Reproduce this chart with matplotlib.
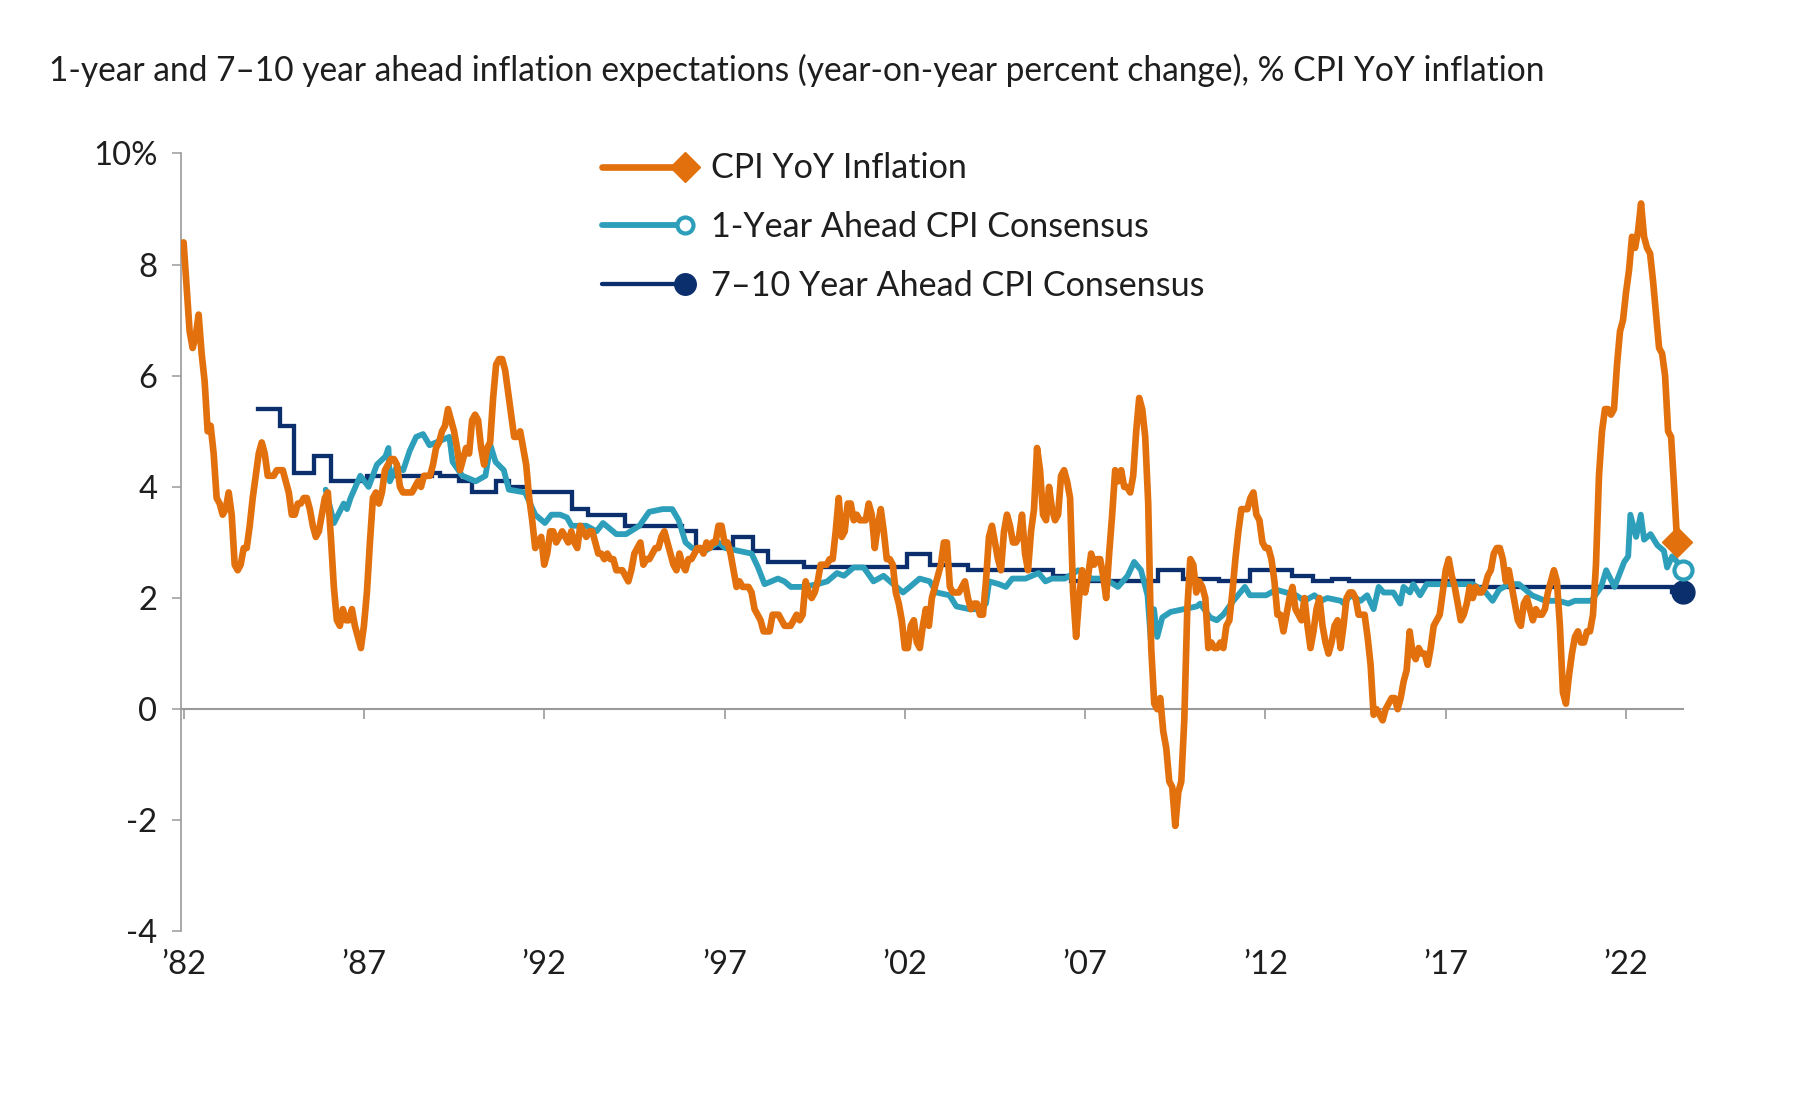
import numpy as np
import pandas as pd
import matplotlib
matplotlib.use("Agg")
import matplotlib.pyplot as plt
from matplotlib.lines import Line2D
from matplotlib.legend_handler import HandlerLine2D

# ---------------- data ----------------
cpi_start = "1982-01-01"
cpi_yoy = [
    8.4, 7.6, 6.8, 6.5, 6.7, 7.1, 6.4, 5.9, 5.0, 5.1, 4.6, 3.8,   # 1982
    3.7, 3.5, 3.6, 3.9, 3.5, 2.6, 2.5, 2.6, 2.9, 2.9, 3.3, 3.8,   # 1983
    4.2, 4.6, 4.8, 4.6, 4.2, 4.2, 4.2, 4.3, 4.3, 4.3, 4.1, 3.9,   # 1984
    3.5, 3.5, 3.7, 3.7, 3.8, 3.8, 3.6, 3.3, 3.1, 3.2, 3.5, 3.8,   # 1985
    3.9, 3.1, 2.2, 1.6, 1.5, 1.8, 1.6, 1.6, 1.8, 1.5, 1.3, 1.1,   # 1986
    1.5, 2.1, 3.0, 3.8, 3.9, 3.7, 3.9, 4.3, 4.4, 4.5, 4.5, 4.4,   # 1987
    4.0, 3.9, 3.9, 3.9, 3.9, 4.0, 4.1, 4.0, 4.2, 4.2, 4.2, 4.4,   # 1988
    4.7, 4.8, 5.0, 5.1, 5.4, 5.2, 5.0, 4.7, 4.3, 4.5, 4.7, 4.6,   # 1989
    5.2, 5.3, 5.2, 4.7, 4.4, 4.7, 4.8, 5.6, 6.2, 6.3, 6.3, 6.1,   # 1990
    5.7, 5.3, 4.9, 4.9, 5.0, 4.7, 4.4, 3.8, 3.4, 2.9, 3.0, 3.1,   # 1991
    2.6, 2.8, 3.2, 3.2, 3.0, 3.1, 3.2, 3.1, 3.0, 3.2, 3.0, 2.9,   # 1992
    3.3, 3.2, 3.1, 3.2, 3.2, 3.0, 2.8, 2.8, 2.7, 2.8, 2.7, 2.7,   # 1993
    2.5, 2.5, 2.5, 2.4, 2.3, 2.5, 2.8, 2.9, 3.0, 2.6, 2.7, 2.7,   # 1994
    2.8, 2.9, 2.9, 3.1, 3.2, 3.0, 2.8, 2.6, 2.5, 2.8, 2.6, 2.5,   # 1995
    2.7, 2.7, 2.8, 2.9, 2.9, 2.8, 3.0, 2.9, 3.0, 3.0, 3.3, 3.3,   # 1996
    3.0, 3.0, 2.8, 2.5, 2.2, 2.3, 2.2, 2.2, 2.2, 2.1, 1.8, 1.7,   # 1997
    1.6, 1.4, 1.4, 1.4, 1.7, 1.7, 1.7, 1.6, 1.5, 1.5, 1.5, 1.6,   # 1998
    1.7, 1.6, 1.7, 2.3, 2.1, 2.0, 2.1, 2.3, 2.6, 2.6, 2.6, 2.7,   # 1999
    2.7, 3.2, 3.8, 3.1, 3.2, 3.7, 3.7, 3.4, 3.5, 3.4, 3.4, 3.4,   # 2000
    3.7, 3.5, 2.9, 3.3, 3.6, 3.2, 2.7, 2.7, 2.6, 2.1, 1.9, 1.6,   # 2001
    1.1, 1.1, 1.5, 1.6, 1.2, 1.1, 1.5, 1.8, 1.5, 2.0, 2.2, 2.4,   # 2002
    2.6, 3.0, 3.0, 2.2, 2.1, 2.1, 2.1, 2.2, 2.3, 2.0, 1.8, 1.9,   # 2003
    1.9, 1.7, 1.7, 2.3, 3.1, 3.3, 3.0, 2.7, 2.5, 3.2, 3.5, 3.3,   # 2004
    3.0, 3.0, 3.1, 3.5, 2.8, 2.5, 3.2, 3.6, 4.7, 4.3, 3.5, 3.4,   # 2005
    4.0, 3.6, 3.4, 3.5, 4.2, 4.3, 4.1, 3.8, 2.1, 1.3, 2.0, 2.5,   # 2006
    2.1, 2.4, 2.8, 2.6, 2.7, 2.7, 2.4, 2.0, 2.8, 3.5, 4.3, 4.1,   # 2007
    4.3, 4.0, 4.0, 3.9, 4.2, 5.0, 5.6, 5.4, 4.9, 3.7, 1.1, 0.1,   # 2008
    0.0, 0.2, -0.4, -0.7, -1.3, -1.4, -2.1, -1.5, -1.3, -0.2, 1.8, 2.7,  # 2009
    2.6, 2.1, 2.3, 2.2, 2.0, 1.1, 1.2, 1.1, 1.1, 1.2, 1.1, 1.5,   # 2010
    1.6, 2.1, 2.7, 3.2, 3.6, 3.6, 3.6, 3.8, 3.9, 3.5, 3.4, 3.0,   # 2011
    2.9, 2.9, 2.7, 2.3, 1.7, 1.7, 1.4, 1.7, 2.0, 2.2, 1.8, 1.7,   # 2012
    1.6, 2.0, 1.5, 1.1, 1.4, 1.8, 2.0, 1.5, 1.2, 1.0, 1.2, 1.5,   # 2013
    1.6, 1.1, 1.5, 2.0, 2.1, 2.1, 2.0, 1.7, 1.7, 1.7, 1.3, 0.8,   # 2014
    -0.1, 0.0, -0.1, -0.2, 0.0, 0.1, 0.2, 0.2, 0.0, 0.2, 0.5, 0.7,  # 2015
    1.4, 1.0, 0.9, 1.1, 1.0, 1.0, 0.8, 1.1, 1.5, 1.6, 1.7, 2.1,   # 2016
    2.5, 2.7, 2.4, 2.2, 1.9, 1.6, 1.7, 1.9, 2.2, 2.0, 2.2, 2.1,   # 2017
    2.1, 2.2, 2.4, 2.5, 2.8, 2.9, 2.9, 2.7, 2.3, 2.5, 2.2, 1.9,   # 2018
    1.6, 1.5, 1.9, 2.0, 1.8, 1.6, 1.8, 1.7, 1.7, 1.8, 2.1, 2.3,   # 2019
    2.5, 2.3, 1.5, 0.3, 0.1, 0.6, 1.0, 1.3, 1.4, 1.2, 1.2, 1.4,   # 2020
    1.4, 1.7, 2.6, 4.2, 5.0, 5.4, 5.4, 5.3, 5.4, 6.2, 6.8, 7.0,   # 2021
    7.5, 7.9, 8.5, 8.3, 8.6, 9.1, 8.5, 8.3, 8.2, 7.7, 7.1, 6.5,   # 2022
    6.4, 6.0, 5.0, 4.9, 4.0, 3.0,                                 # 2023
]

one_year_dates = [
    1985.94, 1986.17, 1986.44, 1986.53, 1986.63, 1986.90, 1987.13, 1987.36, 1987.60, 1987.68,
    1987.72, 1987.90, 1988.09, 1988.27, 1988.45, 1988.64, 1988.82, 1989.00, 1989.19, 1989.37,
    1989.46, 1989.73, 1990.10, 1990.37, 1990.51, 1990.65, 1990.88, 1991.02, 1991.47, 1991.75,
    1992.02, 1992.20, 1992.44, 1992.63, 1992.76, 1993.17, 1993.45, 1993.63, 1994.00, 1994.27,
    1994.64, 1994.91, 1995.28, 1995.55, 1995.73, 1995.92, 1996.10, 1996.47, 1996.83, 1997.02,
    1997.38, 1997.75, 1997.93, 1998.11, 1998.30, 1998.48, 1998.66, 1998.84, 1999.21, 1999.58,
    1999.85, 2000.12, 2000.31, 2000.58, 2000.86, 2001.13, 2001.41, 2001.68, 2001.95, 2002.14,
    2002.41, 2002.69, 2002.88, 2003.24, 2003.43, 2003.79, 2004.07, 2004.25, 2004.34, 2004.61,
    2004.80, 2004.98, 2005.35, 2005.71, 2005.90, 2006.08, 2006.44, 2006.81, 2007.18, 2007.54,
    2007.91, 2008.18, 2008.36, 2008.55, 2008.73, 2008.82, 2008.91, 2009.00, 2009.14, 2009.37,
    2009.74, 2010.10, 2010.19, 2010.47, 2010.65, 2010.83, 2011.11, 2011.43, 2011.57, 2012.02,
    2012.30, 2012.57, 2012.85, 2013.08, 2013.36, 2013.54, 2013.72, 2014.09, 2014.18, 2014.36,
    2014.64, 2014.82, 2015.00, 2015.14, 2015.28, 2015.55, 2015.74, 2015.83, 2016.01, 2016.10,
    2016.29, 2016.47, 2016.93, 2017.38, 2017.75, 2018.11, 2018.30, 2018.48, 2018.75, 2019.03,
    2019.21, 2019.39, 2019.76, 2020.13, 2020.40, 2020.58, 2021.04, 2021.31, 2021.45, 2021.68,
    2021.95, 2022.06, 2022.12, 2022.28, 2022.41, 2022.50, 2022.68, 2022.87, 2023.05, 2023.14,
    2023.28, 2023.42, 2023.58,
]
one_year_vals = [
    3.95, 3.35, 3.70, 3.60, 3.80, 4.20, 4.00, 4.40, 4.55, 4.70,
    4.10, 4.35, 4.30, 4.65, 4.90, 4.95, 4.75, 4.80, 4.85, 4.90,
    4.45, 4.20, 4.10, 4.20, 4.75, 4.45, 4.30, 3.95, 3.90, 3.50,
    3.35, 3.50, 3.50, 3.45, 3.30, 3.30, 3.20, 3.35, 3.15, 3.15,
    3.30, 3.55, 3.60, 3.60, 3.40, 3.00, 2.90, 2.85, 3.00, 2.90,
    2.85, 2.80, 2.55, 2.25, 2.30, 2.35, 2.30, 2.20, 2.20, 2.25,
    2.30, 2.45, 2.40, 2.55, 2.55, 2.30, 2.40, 2.25, 2.10, 2.20,
    2.35, 2.30, 2.10, 2.05, 1.85, 1.80, 1.80, 1.90, 2.30, 2.25,
    2.20, 2.35, 2.35, 2.45, 2.30, 2.35, 2.35, 2.50, 2.35, 2.35,
    2.20, 2.40, 2.65, 2.50, 2.05, 1.25, 1.80, 1.30, 1.65, 1.75,
    1.80, 1.85, 1.90, 1.65, 1.60, 1.70, 1.95, 2.20, 2.05, 2.05,
    2.15, 2.10, 2.05, 1.95, 2.05, 1.95, 2.00, 1.95, 1.90, 2.05,
    1.95, 2.05, 1.80, 2.20, 2.10, 2.10, 1.90, 2.20, 2.10, 2.25,
    2.05, 2.25, 2.25, 2.25, 2.25, 2.10, 1.95, 2.15, 2.25, 2.25,
    2.15, 2.05, 1.95, 1.95, 1.90, 1.95, 1.95, 2.20, 2.50, 2.20,
    2.65, 2.75, 3.50, 3.10, 3.50, 3.05, 3.15, 2.95, 2.85, 2.55,
    2.75, 2.65, 2.50,
]

long_dates = [
    1984.06, 1984.66, 1985.07, 1985.62, 1986.08, 1987.08, 1988.90, 1989.12, 1989.64, 1990.01,
    1990.65, 1991.02, 1991.56, 1992.76, 1993.22, 1994.23, 1995.83, 1996.20, 1997.24, 1997.80,
    1998.20, 1999.20, 2002.07, 2002.70, 2003.75, 2006.12, 2006.60, 2009.02, 2009.72, 2010.70,
    2011.57, 2012.75, 2013.31, 2013.86, 2014.32, 2017.75, 2023.28, 2023.58,
]
long_vals = [
    5.40, 5.10, 4.25, 4.55, 4.10, 4.20, 4.25, 4.20, 4.10, 3.90,
    4.10, 4.00, 3.90, 3.60, 3.50, 3.30, 3.20, 2.90, 3.10, 2.85,
    2.65, 2.55, 2.80, 2.60, 2.50, 2.40, 2.30, 2.50, 2.35, 2.30,
    2.50, 2.40, 2.30, 2.35, 2.30, 2.20, 2.10, 2.10,
]

x_tick_years = [1982, 1987, 1992, 1997, 2002, 2007, 2012, 2017, 2022]
x_tick_labels = ["\u201982", "\u201987", "\u201992", "\u201997", "\u201902",
                 "\u201907", "\u201912", "\u201917", "\u201922"]
y_ticks = [-4, -2, 0, 2, 4, 6, 8, 10]
y_tick_labels = ["-4", "-2", "0", "2", "4", "6", "8", "10%"]

series_names = ["CPI YoY Inflation", "1-Year Ahead CPI Consensus",
                "7\u201310 Year Ahead CPI Consensus"]
title_text = ("1-year and 7\u201310 year ahead inflation expectations "
              "(year-on-year percent change), % CPI YoY inflation")

# ---------------- style ----------------
ORANGE = "#E2700D"
TEAL = "#2D9FBA"
NAVY = "#0B2F6D"
GRAY = "#9A9A9A"
TXT = "#1E1E1E"
FONT = ["Lato", "DejaVu Sans"]
LW_CPI, LW_ONE, LW_LONG = 4.8, 4.2, 3.1

plt.rcParams["font.family"] = FONT

cpi_idx = pd.date_range(cpi_start, periods=len(cpi_yoy), freq="MS")
cpi_x = cpi_idx.year + (cpi_idx.month - 1) / 12.0

fig = plt.figure(figsize=(18, 11), dpi=100)
fig.patch.set_facecolor("white")
ax = fig.add_axes([0.1008, 0.1532, 0.8342, 0.7073])

ax.plot(long_dates, long_vals, color=NAVY, lw=LW_LONG, drawstyle="steps-post",
        solid_joinstyle="miter", zorder=2)
ax.plot(one_year_dates, one_year_vals, color=TEAL, lw=LW_ONE, solid_joinstyle="round",
        solid_capstyle="round", zorder=3)
ax.plot(cpi_x, cpi_yoy, color=ORANGE, lw=LW_CPI, solid_joinstyle="round",
        solid_capstyle="round", zorder=4)

# end markers
ax.plot(long_dates[-1:], long_vals[-1:], marker="o", ms=16.5, color=NAVY,
        ls="none", clip_on=False, zorder=6)
ax.plot(one_year_dates[-1:], one_year_vals[-1:], marker="o", ms=13, mfc="white",
        mec=TEAL, mew=3.0, ls="none", clip_on=False, zorder=6)
ax.plot(cpi_x[-1:], cpi_yoy[-1:], marker="D", ms=15.3, color=ORANGE,
        ls="none", clip_on=False, zorder=7)

ax.set_xlim(1981.94, 2023.58)
ax.set_ylim(-4, 10)

for s in ["top", "right"]:
    ax.spines[s].set_visible(False)
ax.spines["left"].set_color(GRAY)
ax.spines["left"].set_linewidth(1.2)
ax.spines["bottom"].set_position(("data", 0))
ax.spines["bottom"].set_color(GRAY)
ax.spines["bottom"].set_linewidth(1.5)

ax.set_yticks(y_ticks, y_tick_labels)
ax.tick_params(axis="y", direction="out", length=6.5, width=1.1, color=GRAY,
               pad=10.8, labelcolor=TXT)
ax.set_xticks(x_tick_years)
ax.tick_params(axis="x", direction="out", length=7, width=1.2, color=GRAY,
               labelbottom=False)

sec = ax.secondary_xaxis("bottom")
sec.set_xticks(x_tick_years, x_tick_labels)
sec.tick_params(length=0, pad=13.5, labelcolor=TXT)
sec.spines["bottom"].set_visible(False)

title = fig.text(0.027, 1 - 70.5 / 1100, title_text, ha="left", va="center",
                 fontsize=20, color=TXT)


class EndMarkerHandler(HandlerLine2D):
    """Legend line with its marker drawn at the right end."""
    def create_artists(self, *args, **kwargs):
        arts = super().create_artists(*args, **kwargs)
        for a in arts:
            n = len(a.get_xdata())
            a.set_markevery([n - 1])
        return arts


handles = [
    Line2D([], [], color=ORANGE, lw=LW_CPI, marker="D", ms=15, solid_capstyle="round"),
    Line2D([], [], color=TEAL, lw=LW_ONE, marker="o", ms=11.5, mfc="white", mec=TEAL,
           mew=3.0, solid_capstyle="round"),
    Line2D([], [], color=NAVY, lw=3.1, marker="o", ms=15.5, solid_capstyle="round"),
]


def make_legend(anchor, ls, fs, hl, htp):
    old = ax.get_legend()
    if old is not None:
        old.remove()
    leg = ax.legend(handles, series_names,
                    handler_map={Line2D: EndMarkerHandler()},
                    loc="upper left", bbox_to_anchor=anchor,
                    bbox_transform=fig.transFigure, frameon=False,
                    borderpad=0, borderaxespad=0, handlelength=hl,
                    handletextpad=htp, labelspacing=ls, numpoints=1,
                    prop={"family": FONT, "size": fs})
    for t in leg.get_texts():
        t.set_color(TXT)
    return leg


# ---- fit font sizes to reference widths ----
fig.canvas.draw()
r = fig.canvas.get_renderer()
w = title.get_window_extent(r).width
title.set_fontsize(title.get_fontsize() * 1498 / w)

ax.tick_params(axis="y", labelsize=22)
sec.tick_params(labelsize=22)
fig.canvas.draw()
lab10 = [t for t in ax.get_yticklabels() if t.get_text() == "10%"][0]
w = lab10.get_window_extent(r).width
tsz = 22 * 64 / w
ax.tick_params(axis="y", labelsize=tsz)
sec.tick_params(labelsize=tsz)

fs = 24
ls = 0.55
anchor = [603 / 1800, 1 - 145 / 1100]
leg = make_legend(tuple(anchor), ls, fs, 2.3, 0.7)
fig.canvas.draw()
w = leg.get_texts()[0].get_window_extent(r).width
fs = fs * 257 / w
fpx = fs * 100 / 72
hl = 83 / fpx          # line start -> marker centre
htp = (711 - 685) / fpx  # marker centre -> text
leg = make_legend(tuple(anchor), ls, fs, hl, htp)
for _ in range(3):
    fig.canvas.draw()
    tb = [t.get_window_extent(r) for t in leg.get_texts()]
    cy = [1100 - (b.y0 + b.y1) / 2 for b in tb]  # from top
    spacing = (cy[2] - cy[0]) / 2
    ls = ls + (58.5 - spacing) / fpx
    dx = 711 - tb[0].x0
    dy = 168.5 - cy[0]
    anchor[0] += dx / 1800
    anchor[1] -= dy / 1100
    leg = make_legend(tuple(anchor), ls, fs, hl, htp)

fig.savefig("out.png", dpi=100, facecolor="white")
